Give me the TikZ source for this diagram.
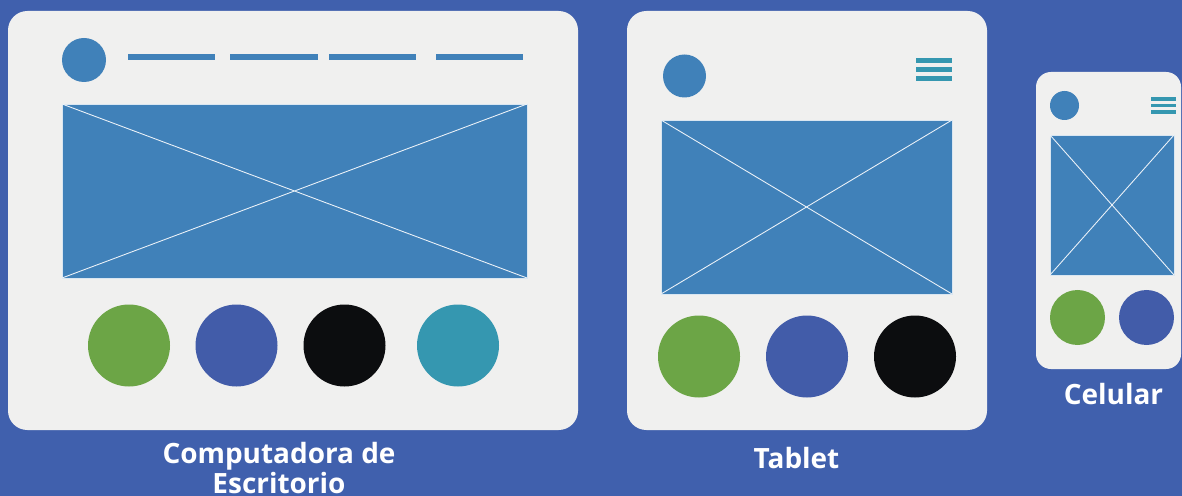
\documentclass[tikz,border=0pt]{standalone}
\usepackage{fontspec}
\setmainfont{Open Sans}
\usetikzlibrary{positioning}
\definecolor{bgblue}{HTML}{4060AD}
\definecolor{paper}{HTML}{F0F0EF}
\definecolor{picblue}{HTML}{4081B9}
\definecolor{leafgreen}{HTML}{6CA546}
\definecolor{dotindigo}{HTML}{425CA9}
\definecolor{inkblack}{HTML}{0C0D0F}
\definecolor{menuteal}{HTML}{3597B0}
\tikzset{
    screen/.style={fill=paper,rounded corners=11pt},
    photo/.style={fill=picblue,draw=white!80!picblue,line width=0.4pt},
    cross/.style={draw=white!90!picblue,line width=0.5pt},
    devlabel/.style={text=white,font=\fontsize{15.9}{16.6}\selectfont\bfseries,inner sep=0pt,align=center}
}
% image placeholder with a cross in it
\newcommand{\wireimage}[4]{%
    \fill[photo] (#1,#2) rectangle (#3,#4);
    \draw[cross] (#1,#2) -- (#3,#4) (#1,#4) -- (#3,#2);
}

\begin{document}
\begin{tikzpicture}[x=0.02cm,y=-0.02cm]
    \fill[bgblue] (0,0) rectangle (1182,496);
    \useasboundingbox (0,0) rectangle (1182,496);

    % Desktop
    \fill[screen] (8,11) rectangle (578,430);
    \fill[picblue] (84,60) circle[radius=22];
    \foreach \xa/\xb in {128/215,230/318,329/416,436/523}
        \fill[picblue] (\xa,54) rectangle (\xb,60);
    \wireimage{62}{104}{527}{278}
    \foreach \cx/\col in {129/leafgreen,236.5/dotindigo,344.5/inkblack,458/menuteal}
        \fill[\col] (\cx,345.5) circle[radius=41];
    \node[devlabel,anchor=base] (desklbl) at (279,493) {Computadora de\\Escritorio};

    % Tablet
    \fill[screen] (627,11) rectangle (987,430);
    \fill[picblue] (684.5,76) circle[radius=21.5];
    \foreach \yy in {58,67,76}
        \fill[menuteal] (915.5,\yy) rectangle +(36.5,5);
    \wireimage{661}{120}{952}{294}
    \foreach \cx/\col in {699/leafgreen,807/dotindigo,915/inkblack}
        \fill[\col] (\cx,356.5) circle[radius=41];
    \node[devlabel,anchor=base] (tablbl) at (796.5,468) {Tablet};

    % Phone
    \fill[screen,rounded corners=8.5pt] (1036,72) rectangle (1181,369);
    \fill[picblue] (1064.5,105.5) circle[radius=14.5];
    \foreach \yy in {97.5,104,110.5}
        \fill[menuteal] (1151,\yy) rectangle +(25,3.5);
    \wireimage{1050}{135}{1174}{275}
    \foreach \cx/\col in {1077.5/leafgreen,1146.5/dotindigo}
        \fill[\col] (\cx,317.5) circle[radius=27.5];
    \node[devlabel,anchor=base] (phonelbl) at (1113.5,404) {Celular};
\end{tikzpicture}
\end{document}
